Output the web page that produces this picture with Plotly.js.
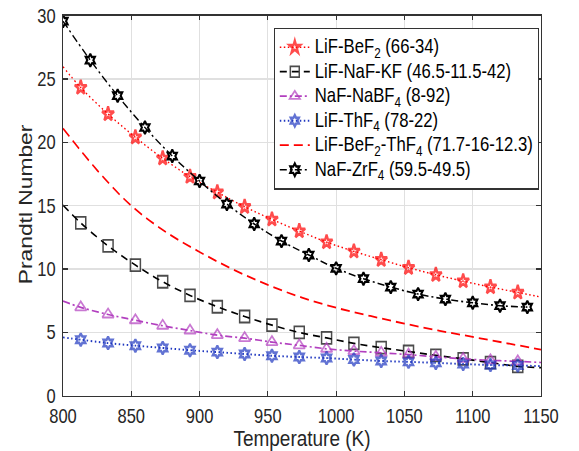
<!DOCTYPE html>
<html><head><meta charset="utf-8">
<script src="https://cdn.plot.ly/plotly-3.0.1.min.js"></script>
<style>
html,body{margin:0;padding:0;background:#fff;overflow:hidden}
#wrap{width:579px;height:451px;overflow:hidden}
#plot{width:579px;height:376px;transform:scaleY(1.1995);transform-origin:0 0}
</style>
</head><body><div id="wrap"><div id="plot"></div></div>
<script>
// ---- data (temperature in K, Prandtl number) ----
const markerTemps = [813, 833, 853, 873, 893, 913, 933, 953, 973, 993, 1013, 1033, 1053, 1073, 1093, 1113, 1133];
const fitEndTemps = [800, 1150];

const lifBef2Pr    = [24.32, 22.24, 20.40, 18.74, 17.29, 16.06, 14.92, 13.92, 13.00, 12.13, 11.40, 10.74, 10.11, 9.55, 9.05, 8.58, 8.16];
const lifBef2Ends  = [25.97, 7.79];

const lifNafKfPr   = [13.64, 11.83, 10.32, 9.00, 7.92, 7.03, 6.26, 5.58, 5.00, 4.57, 4.14, 3.80, 3.50, 3.20, 2.92, 2.62, 2.33];
const lifNafKfEnds = [15.05, 2.22];

const nafNabf4Pr   = [6.98, 6.42, 5.96, 5.53, 5.15, 4.79, 4.55, 4.24, 3.98, 3.71, 3.53, 3.40, 3.25, 3.08, 2.92, 2.80, 2.72];
const nafNabf4Ends = [7.48, 2.63];

const lifThf4Pr    = [4.43, 4.16, 3.96, 3.78, 3.60, 3.45, 3.30, 3.16, 3.06, 2.98, 2.86, 2.75, 2.68, 2.60, 2.51, 2.43, 2.40];
const lifThf4Ends  = [4.61, 2.34];

const lifBef2Thf4Temps = [800, 825, 850, 875, 900, 925, 950, 975, 1000, 1025, 1050, 1075, 1100, 1125, 1150];
const lifBef2Thf4Pr    = [21.1, 17.8, 15.0, 12.95, 11.35, 9.95, 8.75, 7.75, 6.95, 6.3, 5.7, 5.15, 4.65, 4.15, 3.65];

const nafZrf4Temps = [800, 820, 840, 860, 880, 900, 920, 940, 960, 980, 1000, 1020, 1040, 1060, 1080, 1100, 1120, 1140];
const nafZrf4Pr    = [29.56, 26.48, 23.68, 21.17, 18.92, 16.95, 15.13, 13.56, 12.21, 11.11, 10.06, 9.24, 8.58, 8.03, 7.63, 7.34, 7.11, 7.00];

const seriesNames = [
  'LiF-BeF<sub>2</sub> (66-34)',
  'LiF-NaF-KF (46.5-11.5-42)',
  'NaF-NaBF<sub>4</sub> (8-92)',
  'LiF-ThF<sub>4</sub> (78-22)',
  'LiF-BeF<sub>2</sub>-ThF<sub>4</sub> (71.7-16-12.3)',
  'NaF-ZrF<sub>4</sub> (59.5-49.5)'
];
const xTicks = [800, 850, 900, 950, 1000, 1050, 1100, 1150];
const yTicks = [0, 5, 10, 15, 20, 25, 30];
const xTitle = 'Temperature (K)';
const yTitle = 'Prandtl Number';

// ---- build traces ----
function label(name) { return '<span style="font-size:16.7px">' + name + '</span>'; }
function fitted(name, pr, ends, color, dash, width, symbol, msize, mwidth) {
  const x = [fitEndTemps[0]].concat(markerTemps, [fitEndTemps[1]]);
  const y = [ends[0]].concat(pr, [ends[1]]);
  const sizes = x.map((_, i) => (i === 0 || i === x.length - 1) ? 0 : msize);
  return {
    type: 'scatter', mode: 'lines+markers', name: label(name), x: x, y: y,
    line: {color: color, dash: dash, width: width, shape: 'spline', smoothing: 1},
    marker: {symbol: symbol, size: sizes, color: color, line: {color: color, width: mwidth}}
  };
}
const FONT = 'Liberation Sans, Arial, Helvetica, sans-serif';
const traces = [
  fitted(seriesNames[0], lifBef2Pr, lifBef2Ends, '#ff0000', '1.5px,2.5px', 1.2, 'star-open', 9, 2.2),
  fitted(seriesNames[1], lifNafKfPr, lifNafKfEnds, '#000000', '7px,5px', 1.4, 'square-open', 10, 1.5),
  fitted(seriesNames[2], nafNabf4Pr, nafNabf4Ends, '#b23fbf', '7px,3px,2px,3px', 1.4, 'triangle-up-open', 10, 1.6),
  fitted(seriesNames[3], lifThf4Pr, lifThf4Ends, '#2038c0', '1.5px,2.5px', 1.6, 'hexagram-open', 8, 2.2),
  {type: 'scatter', mode: 'lines', name: label(seriesNames[4]), x: lifBef2Thf4Temps, y: lifBef2Thf4Pr,
   line: {color: '#ff0000', dash: '9px,5px', width: 1.5, shape: 'spline', smoothing: 1}},
  {type: 'scatter', mode: 'lines+markers', name: label(seriesNames[5]), x: nafZrf4Temps, y: nafZrf4Pr,
   line: {color: '#000000', dash: '7px,3px,2px,3px', width: 1.3, shape: 'spline', smoothing: 1},
   marker: {symbol: 'hexagram-open', size: 8, color: '#000000', line: {color: '#000000', width: 2}}}
];

const axisCommon = {
  showline: true, linecolor: '#333333', linewidth: 1, mirror: 'ticks',
  ticks: 'inside', tickcolor: '#333333', tickwidth: 1,
  showgrid: true, gridcolor: '#e0e0e0', gridwidth: 1, zeroline: false,
  tickfont: {family: FONT, size: 16.5, color: '#262626'}
};
const layout = {
  width: 579, height: 376,
  margin: {l: 63, r: 38, t: 13, b: 46, pad: 0},
  paper_bgcolor: '#ffffff', plot_bgcolor: '#ffffff',
  font: {family: FONT, color: '#262626'},
  showlegend: true,
  xaxis: Object.assign({}, axisCommon, {
    range: [800, 1150], tickvals: xTicks, ticklen: 4, ticklabelstandoff: 2,
    title: {text: xTitle, font: {family: FONT, size: 19, color: '#262626'}, standoff: 2}
  }),
  yaxis: Object.assign({}, axisCommon, {
    range: [0, 30], tickvals: yTicks, ticklen: 5, ticklabelstandoff: 3,
    title: {text: ''}
  }),
  annotations: [{
    text: yTitle, xref: 'paper', yref: 'paper', x: -0.078, y: 0.504,
    xanchor: 'center', yanchor: 'middle', textangle: -90, showarrow: false,
    font: {family: FONT, size: 19, color: '#262626'}
  }],
  legend: {
    x: 0.441, y: 0.968, xanchor: 'left', yanchor: 'top',
    bgcolor: '#ffffff', bordercolor: '#333333', borderwidth: 1,
    font: {family: FONT, size: 13.4, color: '#000000'}, tracegroupgap: 0
  }
};
Plotly.newPlot('plot', traces, layout, {staticPlot: true, displayModeBar: false});
</script></body></html>
